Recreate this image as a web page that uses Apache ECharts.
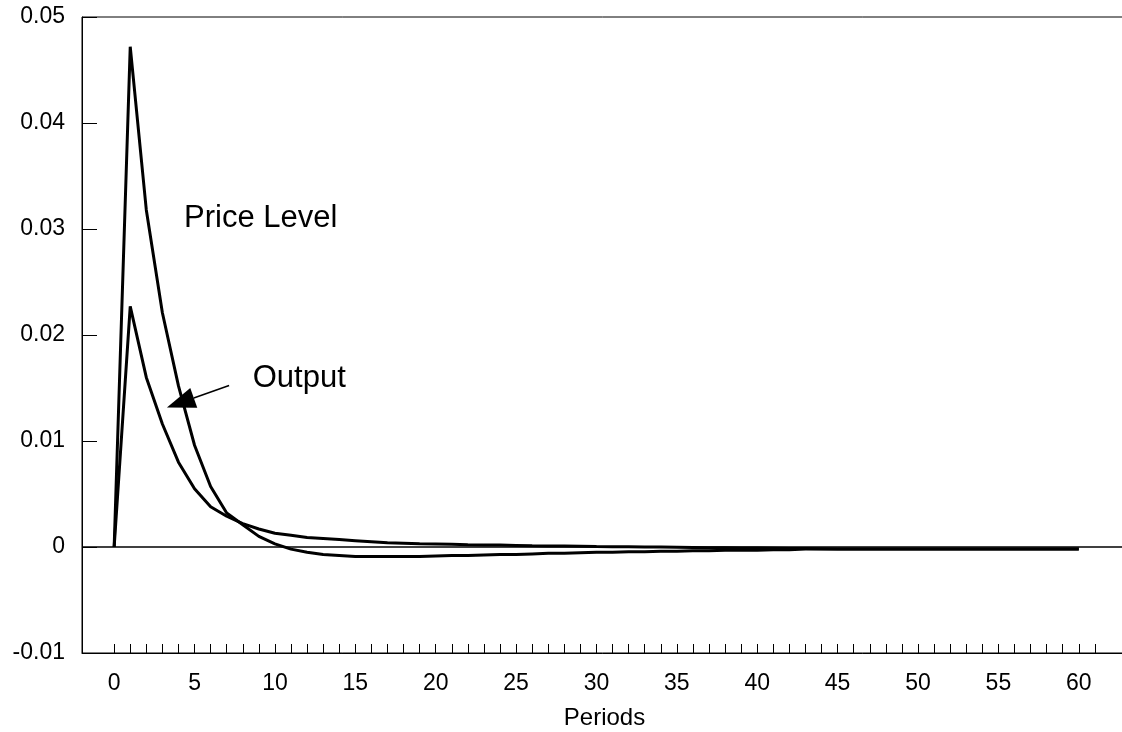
<!DOCTYPE html>
<html>
<head>
<meta charset="utf-8">
<script src="https://cdn.jsdelivr.net/npm/echarts@6/dist/echarts.min.js"></script>
<style>
  html, body { margin: 0; padding: 0; background: #fff; }
  #chart { width: 1122px; height: 732px; }
</style>
</head>
<body>
<div id="chart"></div>
<script>
// ---- data ----
const periods = [];
for (let i = 0; i <= 60; i++) periods.push(i);

const priceLevel = [
  0, 0.0472, 0.0318, 0.0221, 0.0152, 0.0096, 0.0057, 0.0032, 0.0021, 0.0010,
  0.0003, -0.0002, -0.0005, -0.0007, -0.0008, -0.0009, -0.0009, -0.0009, -0.0009, -0.0009,
  -0.00085, -0.0008, -0.0008, -0.00075, -0.0007, -0.0007, -0.00065, -0.0006, -0.0006, -0.00055,
  -0.0005, -0.0005, -0.00045, -0.00045, -0.0004, -0.0004, -0.00035, -0.00035, -0.0003, -0.0003,
  -0.0003, -0.00025, -0.00025, -0.0002, -0.0002, -0.0002, -0.0002, -0.0002, -0.0002, -0.0002,
  -0.0002, -0.0002, -0.0002, -0.0002, -0.0002, -0.0002, -0.0002, -0.0002, -0.0002, -0.0002,
  -0.0002
];

const output = [
  0, 0.0227, 0.0160, 0.0116, 0.0080, 0.0055, 0.0038, 0.0029, 0.0022, 0.0017,
  0.0013, 0.0011, 0.0009, 0.0008, 0.0007, 0.0006, 0.0005, 0.0004, 0.00035, 0.0003,
  0.00028, 0.00025, 0.00022, 0.0002, 0.00018, 0.00015, 0.00012, 0.0001, 0.0001, 0.00008,
  0.00005, 0.00003, 0.00002, 0, 0, -0.00002, -0.00004, -0.00006, -0.00008, -0.0001,
  -0.0001, -0.00012, -0.00014, -0.00015, -0.00016, -0.00018, -0.0002, -0.0002, -0.0002, -0.0002,
  -0.0002, -0.0002, -0.0002, -0.0002, -0.0002, -0.0002, -0.0002, -0.0002, -0.0002, -0.0002,
  -0.0002
];

const xTickValues = [];
for (let i = 0; i <= 61; i++) xTickValues.push(i);
const xLabelValues = [0, 5, 10, 15, 20, 25, 30, 35, 40, 45, 50, 55, 60];
const xAxisName = 'Periods';
const priceLabel = 'Price Level';
const outputLabel = 'Output';

// annotation anchors (data coordinates)
const priceLabelAt = [4.35, 0.0309];
const outputLabelAt = [8.62, 0.0158];
const arrowFrom = [7.15, 0.01524];
const arrowTip = [3.28, 0.01317];

const FONT = 'Liberation Sans, Arial, Helvetica, sans-serif';

const chart = echarts.init(document.getElementById('chart'), null, { renderer: 'canvas' });

const toPairs = (arr) => arr.map((v, i) => [periods[i], v]);

chart.setOption({
  animation: false,
  backgroundColor: '#ffffff',
  grid: {
    left: 82, top: 17, width: 1045, height: 636,
    containLabel: false, outerBoundsMode: 'none',
    show: true, borderColor: '#000', borderWidth: 1, backgroundColor: 'transparent'
  },
  xAxis: {
    type: 'value', min: -2, max: 63, interval: 1,
    name: xAxisName, nameLocation: 'middle', nameGap: 53,
    nameTextStyle: { fontFamily: FONT, fontSize: 24, color: '#000' },
    axisLine: { show: true, onZero: false, lineStyle: { color: '#000', width: 1 } },
    axisTick: { show: true, inside: true, length: 9, customValues: xTickValues, lineStyle: { color: '#000', width: 1 } },
    axisLabel: { show: true, customValues: xLabelValues, margin: 19, fontFamily: FONT, fontSize: 23, color: '#000' },
    splitLine: { show: false }
  },
  yAxis: {
    type: 'value', min: -0.01, max: 0.05, interval: 0.01,
    axisLine: { show: true, onZero: false, lineStyle: { color: '#000', width: 1 } },
    axisTick: { show: true, inside: true, length: 15, lineStyle: { color: '#000', width: 1 } },
    axisLabel: {
      margin: 17, fontFamily: FONT, fontSize: 23, color: '#000',
      formatter: (v) => String(Number(v.toFixed(2)))
    },
    splitLine: { show: false }
  },
  series: [
    {
      name: priceLabel, type: 'line', data: toPairs(priceLevel),
      showSymbol: false, symbol: 'none',
      lineStyle: { color: '#000', width: 3 }, z: 3,
      markLine: {
        silent: true, symbol: ['none', 'none'], animation: false,
        label: { show: false },
        lineStyle: { color: '#000', width: 1.5, type: 'solid' },
        data: [{ yAxis: 0 }]
      }
    },
    {
      name: outputLabel, type: 'line', data: toPairs(output),
      showSymbol: false, symbol: 'none',
      lineStyle: { color: '#000', width: 3 }, z: 3
    }
  ]
});

// annotations placed via the chart's own coordinate conversion
function px(p) { return chart.convertToPixel({ gridIndex: 0 }, p); }
const pl = px(priceLabelAt), ol = px(outputLabelAt);
const a0 = px(arrowFrom), tip = px(arrowTip);
const dx = tip[0] - a0[0], dy = tip[1] - a0[1];
const len = Math.sqrt(dx * dx + dy * dy);
const ux = dx / len, uy = dy / len;
const headLen = 28.5, headHalf = 10.5;
const bc = [tip[0] - ux * headLen, tip[1] - uy * headLen];
const nx = -uy, ny = ux;

chart.setOption({
  graphic: [
    { type: 'text', left: pl[0], top: pl[1] - 17, silent: true,
      style: { text: priceLabel, fontFamily: FONT, fontSize: 31, fill: '#000' } },
    { type: 'text', left: ol[0], top: ol[1] - 17, silent: true,
      style: { text: outputLabel, fontFamily: FONT, fontSize: 31, fill: '#000' } },
    { type: 'line', silent: true,
      shape: { x1: a0[0], y1: a0[1], x2: bc[0], y2: bc[1] },
      style: { stroke: '#000', lineWidth: 1.5 } },
    { type: 'polygon', silent: true,
      shape: { points: [tip, [bc[0] + nx * headHalf, bc[1] + ny * headHalf], [bc[0] - nx * headHalf, bc[1] - ny * headHalf]] },
      style: { fill: '#000' } }
  ]
});
</script>
</body>
</html>
